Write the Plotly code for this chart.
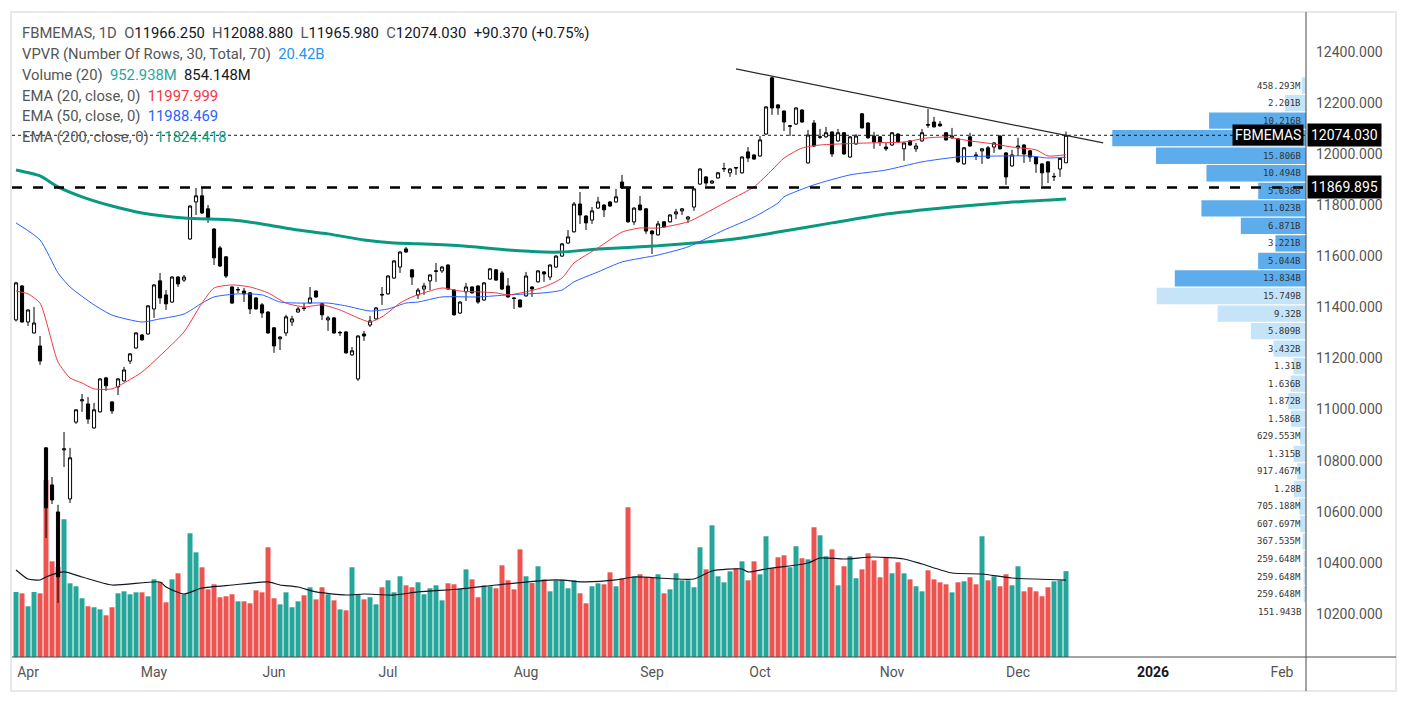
import plotly.graph_objects as go

# ---------------- data ----------------
opens = [11351, 11484, 11343, 11300, 11249, 10850, 10705, 10599, 10842, 10650,
         10951, 11034, 11022, 10928, 10991, 11124, 11030, 11089, 11112, 11190,
         11241, 11292, 11296, 11394, 11504, 11449, 11421, 11519, 11507, 11668,
         11813, 11837, 11786, 11707, 11633, 11598, 11480, 11468, 11464, 11457,
         11437, 11410, 11382, 11320, 11277, 11300, 11343, 11382, 11398, 11417,
         11464, 11414, 11351, 11359, 11300, 11304, 11214, 11120, 11296, 11331,
         11355, 11451, 11453, 11515, 11558, 11629, 11547, 11449, 11472, 11504,
         11541, 11543, 11566, 11468, 11378, 11461, 11480, 11484, 11429, 11511,
         11547, 11535, 11484, 11437, 11429, 11445, 11480, 11500, 11539, 11519,
         11558, 11601, 11652, 11696, 11805, 11758, 11742, 11789, 11801, 11813,
         11813, 11891, 11868, 11735, 11801, 11786, 11699, 11684, 11735, 11735,
         11766, 11778, 11746, 11793, 11883, 11911, 11887, 11907, 11942, 11927,
         11948, 11927, 12009, 11997, 11993, 12079, 12299, 12193, 12169, 12109,
         12118, 12173, 11966, 12122, 12066, 12068, 12087, 12052, 12084, 11989,
         12040, 12158, 12122, 12071, 12068, 12028, 12036, 12079, 12021, 12052,
         12021, 12052, 12116, 12126, 12118, 12084, 12064, 12060, 11962, 12068,
         11997, 12013, 12025, 12028, 12071, 12005, 11954, 12025, 12036, 12013,
         11989, 11962, 11970, 11911, 11942, 11966.25]
highs = [11500, 11488, 11392, 11402, 11288, 10853, 10736, 10627, 10912, 10850,
         11001, 11061, 11049, 11026, 11123, 11128, 11033, 11123, 11167, 11221,
         11303, 11296, 11409, 11491, 11535, 11468, 11522, 11523, 11527, 11800,
         11868, 11868, 11801, 11710, 11641, 11601, 11483, 11480, 11476, 11460,
         11440, 11417, 11385, 11323, 11287, 11371, 11367, 11402, 11417, 11480,
         11467, 11417, 11367, 11362, 11308, 11307, 11245, 11291, 11308, 11367,
         11401, 11480, 11526, 11585, 11620, 11637, 11550, 11476, 11496, 11530,
         11574, 11562, 11569, 11471, 11424, 11496, 11483, 11487, 11499, 11554,
         11550, 11543, 11515, 11440, 11432, 11539, 11483, 11546, 11542, 11569,
         11604, 11652, 11703, 11813, 11852, 11761, 11793, 11833, 11804, 11816,
         11864, 11919, 11871, 11792, 11836, 11789, 11702, 11739, 11738, 11765,
         11786, 11789, 11758, 11867, 11945, 11914, 11898, 11930, 11966, 11945,
         11950, 11992, 12028, 12000, 12071, 12188, 12303, 12196, 12172, 12114,
         12184, 12176, 12095, 12134, 12099, 12107, 12090, 12099, 12087, 12071,
         12079, 12161, 12125, 12087, 12071, 12044, 12087, 12082, 12047, 12055,
         12044, 12099, 12177, 12146, 12130, 12087, 12103, 12063, 12028, 12084,
         12009, 12024, 12032, 12047, 12074, 12008, 12017, 12064, 12039, 12016,
         11992, 11965, 11973, 11927, 11986, 12088.88]
lows = [11345, 11340, 11327, 11298, 11175, 10497, 10630, 10243, 10775, 10634,
        10944, 10991, 10944, 10925, 10988, 11073, 10983, 11057, 11110, 11178,
        11238, 11270, 11293, 11359, 11414, 11390, 11418, 11480, 11500, 11665,
        11762, 11766, 11731, 11566, 11558, 11515, 11414, 11457, 11421, 11374,
        11391, 11359, 11297, 11222, 11233, 11288, 11327, 11379, 11386, 11414,
        11437, 11351, 11308, 11297, 11288, 11219, 11211, 11112, 11269, 11323,
        11352, 11410, 11450, 11512, 11535, 11614, 11488, 11433, 11449, 11468,
        11500, 11535, 11469, 11368, 11375, 11425, 11454, 11414, 11426, 11508,
        11504, 11468, 11438, 11394, 11399, 11442, 11441, 11497, 11500, 11507,
        11555, 11598, 11649, 11693, 11727, 11703, 11727, 11786, 11754, 11794,
        11810, 11865, 11732, 11723, 11779, 11688, 11609, 11681, 11712, 11732,
        11746, 11762, 11731, 11778, 11880, 11876, 11884, 11904, 11930, 11911,
        11919, 11924, 11970, 11978, 11990, 12076, 12154, 12154, 12091, 12071,
        12115, 12123, 11963, 12029, 12060, 12064, 11989, 12049, 11998, 11986,
        12037, 12100, 12061, 12021, 12032, 12013, 12033, 12045, 11974, 12033,
        12009, 12049, 12103, 12104, 12108, 12053, 12061, 11966, 11959, 12029,
        11977, 11962, 11982, 12005, 12018, 11880, 11951, 11993, 11966, 11970,
        11927, 11876, 11887, 11895, 11911, 11965.98]
closes = [11496, 11343, 11390, 11339, 11190, 10615, 10646, 10345, 10846, 10811,
          10999, 11038, 10963, 10999, 11120, 11093, 10995, 11120, 11155, 11218,
          11300, 11273, 11406, 11488, 11437, 11414, 11519, 11492, 11519, 11797,
          11837, 11770, 11746, 11594, 11562, 11523, 11417, 11470, 11453, 11394,
          11394, 11378, 11300, 11249, 11284, 11363, 11355, 11394, 11396, 11437,
          11441, 11371, 11359, 11300, 11302, 11222, 11230, 11288, 11288, 11347,
          11398, 11449, 11523, 11582, 11617, 11617, 11519, 11468, 11484, 11527,
          11543, 11558, 11472, 11371, 11421, 11480, 11457, 11421, 11496, 11551,
          11507, 11472, 11441, 11435, 11402, 11523, 11472, 11543, 11531, 11566,
          11601, 11649, 11676, 11805, 11762, 11731, 11778, 11813, 11782, 11797,
          11833, 11868, 11735, 11789, 11782, 11699, 11688, 11727, 11715, 11762,
          11774, 11786, 11754, 11864, 11942, 11887, 11895, 11927, 11944, 11942,
          11946, 11989, 11985, 11981, 12056, 12185, 12181, 12181, 12126, 12111,
          12181, 12126, 12075, 12032, 12068, 12084, 12001, 12084, 12001, 12068,
          12071, 12103, 12064, 12048, 12048, 12021, 12084, 12048, 12044, 12036,
          12032, 12084, 12114, 12107, 12111, 12056, 12071, 11970, 12025, 12032,
          11995, 12021, 11985, 12044, 12021, 11911, 11997, 12032, 12001, 11989,
          11962, 11927, 11930, 11913, 11983.66, 12074.03]
volumes_m = [722, 707, 563, 722, 707, 1965, 1062, 999, 1528, 818,
             785, 652, 563, 552, 529, 463, 552, 707, 729, 696,
             718, 718, 674, 862, 833, 607, 862, 929, 696, 1373,
             1162, 996, 751, 807, 663, 674, 696, 618, 618, 596,
             740, 718, 1218, 652, 585, 718, 552, 618, 685, 774,
             640, 774, 696, 629, 529, 518, 996, 696, 640, 663,
             585, 774, 851, 718, 896, 796, 774, 829, 696, 763,
             796, 629, 818, 807, 763, 973, 862, 663, 796, 785,
             763, 1018, 851, 751, 1195, 896, 821, 1007, 862, 729,
             851, 858, 763, 851, 707, 596, 785, 818, 807, 940,
             785, 874, 1662, 896, 918, 885, 885, 918, 707, 751,
             929, 851, 851, 774, 1218, 973, 1462, 896, 829, 951,
             985, 1062, 851, 1062, 918, 1340, 985, 1107, 1129, 996,
             1229, 1096, 1084, 1440, 1351, 1118, 1195, 796, 1007, 1118,
             874, 973, 1151, 1073, 885, 1107, 929, 1051, 929, 862,
             785, 729, 962, 862, 829, 807, 718, 829, 840, 885,
             807, 1340, 851, 896, 785, 918, 796, 1007, 729, 774,
             729, 674, 774, 840, 851, 952.938]

vol_ma_idx = [0, 2, 4, 5, 8, 11, 16, 24, 25, 28, 31, 36, 42, 44, 47, 50, 55, 58, 63, 67,
              74, 80, 90, 95, 100, 103, 113, 116, 121, 122, 125, 132, 134, 138, 143, 148,
              151, 156, 161, 166, 175]
vol_ma_val = [966, 866, 855, 888, 944, 888, 799, 833, 777, 699, 766, 799, 833, 799, 777, 722,
              688, 699, 688, 722, 755, 799, 855, 833, 855, 888, 866, 955, 977, 944, 977, 1043,
              1099, 1088, 1110, 1088, 1032, 932, 921, 877, 854.148]

ema20_idx = [0, 2, 4, 7, 9, 11, 13, 16, 18, 21, 25, 28, 31, 33, 36, 39, 42, 45, 48, 51,
             54, 57, 59, 61, 64, 66, 71, 74, 77, 80, 82, 85, 88, 91, 93, 97, 101, 104, 107,
             112, 115, 119, 123, 126, 128, 131, 134, 142, 148, 152, 155, 159, 163, 166, 170,
             172, 175]
ema20_val = [11464, 11453, 11417, 11186, 11124, 11104, 11081, 11081, 11104, 11147, 11233,
             11304, 11417, 11476, 11488, 11480, 11457, 11417, 11402, 11410, 11390, 11359,
             11343, 11363, 11417, 11441, 11476, 11464, 11461, 11457, 11449, 11461, 11480,
             11515, 11574, 11633, 11695, 11711, 11711, 11735, 11770, 11821, 11872, 11938,
             11985, 12024, 12036, 12044, 12048, 12064, 12067, 12052, 12040, 12028, 12017,
             11993, 11997.999]

ema50_idx = [0, 4, 7, 9, 13, 16, 21, 24, 28, 31, 33, 37, 41, 44, 47, 52, 55, 59, 62, 65,
             67, 71, 77, 82, 88, 91, 93, 97, 101, 107, 112, 118, 123, 127, 128, 133, 139,
             145, 151, 157, 164, 169, 172, 175]
ema50_val = [11731, 11664, 11535, 11480, 11410, 11370, 11343, 11355, 11374, 11417, 11441,
             11453, 11449, 11421, 11417, 11417, 11406, 11386, 11394, 11417, 11421, 11441,
             11441, 11449, 11457, 11468, 11500, 11539, 11578, 11605, 11637, 11703, 11754,
             11809, 11833, 11880, 11919, 11938, 11970, 11989, 11993, 11993, 11985, 11988.469]

ema200_idx = [0, 4, 7, 11, 16, 21, 28, 36, 41, 47, 52, 58, 63, 67, 74, 82, 88, 91, 97,
              107, 115, 121, 127, 136, 144, 156, 164, 175]
ema200_val = [11938, 11915, 11872, 11833, 11797, 11770, 11750, 11742, 11727, 11703, 11688,
              11664, 11652, 11649, 11641, 11625, 11617, 11617, 11629, 11641, 11656, 11672,
              11695, 11731, 11762, 11793, 11809, 11824.418]

trend_idx = [120, 181.2]
trend_val = [12334, 12044]
support_level = 11869.895

# VPVR rows, top to bottom, in billions
vpvr_b = [0.458293, 2.201, 10.216, 20.42, 15.806, 10.494, 5.038, 11.023, 6.871, 3.221,
          5.044, 13.834, 15.749, 9.32, 5.809, 3.432, 1.31, 1.636, 1.872, 1.586,
          0.629553, 1.315, 0.917467, 1.28, 0.705188, 0.607697, 0.367535, 0.259648,
          0.259648, 0.259648]
vpvr_in_value_area = [0, 0, 1, 1, 1, 1, 1, 1, 1, 1, 1, 1, 0, 0, 0, 0, 0, 0, 0, 0,
                      0, 0, 0, 0, 0, 0, 0, 0, 0, 0]
vpvr_total_b = 151.943

month_tick_idx = [2, 23, 43, 62, 85, 106, 124, 146, 167, 189.5, 211]
month_labels = ["Apr", "May", "Jun", "Jul", "Aug", "Sep", "Oct", "Nov", "Dec",
                "<b><span style='color:#131722'>2026</span></b>", "Feb"]
price_ticks = [10200, 10400, 10600, 10800, 11000, 11200, 11400, 11600, 11800,
               12000, 12200, 12400]

# ---------------- styling ----------------
UP = "#26A69A"
DOWN = "#EF5350"
FONT = "Roboto"
LBL = "#555555"
VAL = "#131722"

idx = list(range(len(closes)))
vol_colors = [UP if c >= o else DOWN for o, c in zip(opens, closes)]

# VPVR geometry derived from price range
lo, hi = min(lows), max(highs)
nrows = len(vpvr_b)
row_h = (hi - lo) / nrows
row_centers = [hi - (k + 0.5) * row_h for k in range(nrows)]
vp_colors = ["#5DADEC" if f else "#C6E4F8" for f in vpvr_in_value_area]
poc_row = vpvr_b.index(max(vpvr_b))


def fmt_vol_b(v):
    if v < 1:
        return f"{v * 1000:.3f}".rstrip("0").rstrip(".") + "M"
    return f"{v:.3f}".rstrip("0").rstrip(".") + "B"


fig = go.Figure()

# volume
fig.add_trace(go.Bar(x=idx, y=volumes_m, marker=dict(color=vol_colors, line=dict(width=0)),
                     xaxis="x", yaxis="y", hoverinfo="skip"))
fig.add_trace(go.Scatter(x=vol_ma_idx, y=vol_ma_val, mode="lines",
                         line=dict(color="#131722", width=1.2, shape="spline", smoothing=0.6),
                         xaxis="x", yaxis="y", hoverinfo="skip"))

# EMAs
fig.add_trace(go.Scatter(x=ema200_idx, y=ema200_val, mode="lines",
                         line=dict(color="#089981", width=3, shape="spline", smoothing=0.6),
                         xaxis="x", yaxis="y2", hoverinfo="skip"))
fig.add_trace(go.Scatter(x=ema50_idx, y=ema50_val, mode="lines",
                         line=dict(color="#2962FF", width=1, shape="spline", smoothing=0.6),
                         xaxis="x", yaxis="y2", hoverinfo="skip"))
fig.add_trace(go.Scatter(x=ema20_idx, y=ema20_val, mode="lines",
                         line=dict(color="#F23645", width=1, shape="spline", smoothing=0.6),
                         xaxis="x", yaxis="y2", hoverinfo="skip"))

# candles
fig.add_trace(go.Candlestick(
    x=idx, open=opens, high=highs, low=lows, close=closes,
    increasing=dict(line=dict(color="#000000", width=1), fillcolor="#FFFFFF"),
    decreasing=dict(line=dict(color="#000000", width=1), fillcolor="#000000"),
    whiskerwidth=0, xaxis="x", yaxis="y2", hoverinfo="skip"))

# trend line
fig.add_trace(go.Scatter(x=trend_idx, y=trend_val, mode="lines",
                         line=dict(color="#2a2a2a", width=1.2),
                         xaxis="x", yaxis="y2", hoverinfo="skip"))

# VPVR
fig.add_trace(go.Bar(x=vpvr_b, y=row_centers, orientation="h", width=row_h * 0.93,
                     marker=dict(color=vp_colors, line=dict(width=0)),
                     xaxis="x2", yaxis="y2", hoverinfo="skip"))

annotations = []
for k, (v, yc) in enumerate(zip(vpvr_b, row_centers)):
    if k == poc_row:
        continue  # hidden behind the symbol label in the reference
    annotations.append(dict(x=0, xref="x2", y=yc, yref="y2", text=fmt_vol_b(v),
                            xanchor="right", yanchor="middle", xshift=-3, showarrow=False,
                            font=dict(family="DejaVu Sans Mono", size=9, color="#333333")))
annotations.append(dict(x=0, xref="x2", y=row_centers[-1] - row_h, yref="y2",
                        text=f"{vpvr_total_b:.3f}B", xanchor="right", yanchor="middle",
                        xshift=-3, showarrow=False,
                        font=dict(family="DejaVu Sans Mono", size=9, color="#333333")))

# header legend
o, h, l, c = opens[-1], highs[-1], lows[-1], closes[-1]
chg = c - closes[-2]
pct = chg / closes[-2] * 100
sp = "\u00a0\u00a0"


def v(txt, col=VAL):
    return f"<span style='color:{col}'>{txt}</span>"


header = [
    f"FBMEMAS, 1D{sp}O{v(f'{o:.3f}')}{sp}H{v(f'{h:.3f}')}{sp}L{v(f'{l:.3f}')}{sp}"
    f"C{v(f'{c:.3f}')}{sp}{v(f'{chg:+.3f} ({pct:+.2f}%)')}",
    f"VPVR (Number Of Rows, {nrows}, Total, 70){sp}{v(f'{max(vpvr_b):.2f}B', '#2196F3')}",
    f"Volume (20){sp}{v(f'{volumes_m[-1]:.3f}M', '#26A69A')}{sp}{v(f'{vol_ma_val[-1]:.3f}M')}",
    f"EMA (20, close, 0){sp}{v(f'{ema20_val[-1]:.3f}', '#F23645')}",
    f"EMA (50, close, 0){sp}{v(f'{ema50_val[-1]:.3f}', '#2962FF')}",
    f"EMA (200, close, 0){sp}{v(f'{ema200_val[-1]:.3f}', '#089981')}",
]
header_y = [0.9705, 0.9378, 0.9051, 0.8725, 0.8414, 0.8087]
for txt, yy in zip(header, header_y):
    annotations.append(dict(x=0.0062, y=yy, xref="paper", yref="paper", text=txt,
                            xanchor="left", yanchor="middle", showarrow=False,
                            font=dict(family=FONT, size=14.8, color=LBL)))

# price labels
annotations.append(dict(x=1, xref="paper", y=c, yref="y2", text="FBMEMAS",
                        xanchor="right", yanchor="middle", xshift=-2, showarrow=False,
                        bgcolor="#000000", borderpad=2,
                        font=dict(family=FONT, size=14, color="#FFFFFF")))
annotations.append(dict(x=1, xref="paper", y=c, yref="y2", text=f"{c:.3f}",
                        xanchor="left", yanchor="middle", xshift=1, showarrow=False,
                        bgcolor="#000000", borderpad=3,
                        font=dict(family=FONT, size=14, color="#FFFFFF")))
annotations.append(dict(x=1, xref="paper", y=support_level, yref="y2", text=f"{support_level:.3f}",
                        xanchor="left", yanchor="middle", xshift=1, showarrow=False,
                        bgcolor="#000000", borderpad=3,
                        font=dict(family=FONT, size=14, color="#FFFFFF")))

shapes = [
    # outer frame
    dict(type="rect", xref="paper", yref="paper", x0=-0.0008, x1=1.0696, y0=-0.0529, y1=1.0031,
         line=dict(color="#E6E8EE", width=2), layer="below"),
    # axis separators
    dict(type="line", xref="paper", yref="paper", x0=1, x1=1, y0=-0.0529, y1=1.0031,
         line=dict(color="#4A4A4A", width=1), layer="above"),
    dict(type="line", xref="paper", yref="paper", x0=0, x1=1.0696, y0=0, y1=0,
         line=dict(color="#4A4A4A", width=1), layer="above"),
    # support (dashed) and last price (dotted)
    dict(type="line", xref="paper", yref="y2", x0=0, x1=1, y0=support_level, y1=support_level,
         line=dict(color="#000000", width=2.5, dash="10px,11px"), layer="above"),
    dict(type="line", xref="paper", yref="y2", x0=0, x1=1, y0=c, y1=c,
         line=dict(color="#131722", width=1, dash="dot"), layer="above"),
]

fig.update_layout(
    width=1409, height=705,
    margin=dict(l=12, r=103, t=14, b=48),
    paper_bgcolor="white", plot_bgcolor="white",
    showlegend=False, hovermode=False,
    bargap=0.17, boxgap=0.25,
    font=dict(family=FONT, size=14, color=LBL),
    xaxis=dict(range=[-0.67, 215.0], tickmode="array", tickvals=month_tick_idx,
               ticktext=month_labels, showgrid=False, zeroline=False, showline=False,
               ticks="", tickfont=dict(family=FONT, size=14, color=LBL),
               rangeslider=dict(visible=False), ticklabelstandoff=5),
    yaxis=dict(range=[0, 7137], visible=False, showgrid=False, zeroline=False),
    yaxis2=dict(range=[10031, 12549], overlaying="y", side="right", anchor="x",
                tickmode="array", tickvals=price_ticks,
                ticktext=[f"{p:.3f}" for p in price_ticks],
                showgrid=False, zeroline=False, showline=False, ticks="",
                tickfont=dict(family=FONT, size=14, color=LBL), ticklabelstandoff=9),
    xaxis2=dict(range=[136.4, 0], overlaying="x", anchor="y2", visible=False,
                showgrid=False, zeroline=False),
    annotations=annotations,
    shapes=shapes,
)

fig.write_html("out.html")
